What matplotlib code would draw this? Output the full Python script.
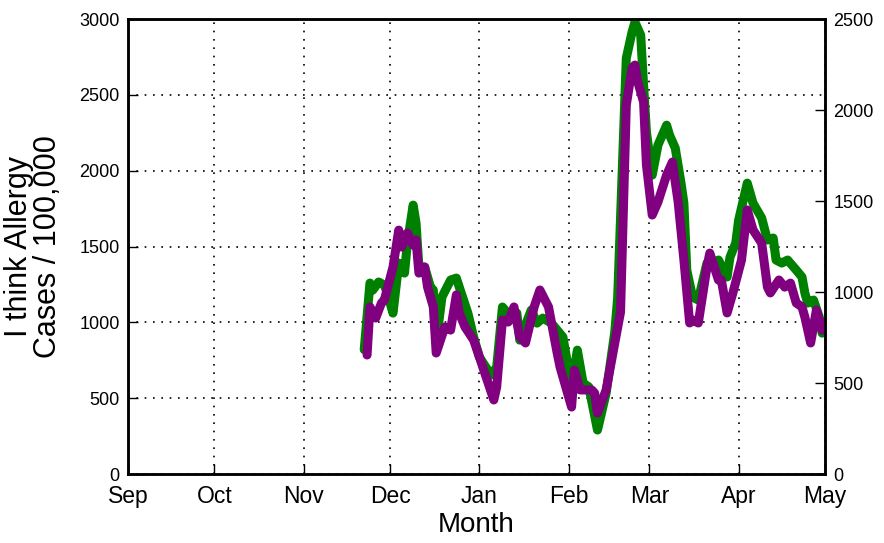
import matplotlib
matplotlib.use("Agg")
import matplotlib.pyplot as plt
import matplotlib.dates as mdates
import pandas as pd

plt.rcParams['font.family'] = ['Liberation Sans', 'DejaVu Sans']

# green series, left axis (cases / 100,000)
green_dates = [
    "2012-11-22", "2012-11-24", "2012-11-25", "2012-11-27", "2012-11-29", "2012-11-30",
    "2012-12-02", "2012-12-04", "2012-12-06", "2012-12-07", "2012-12-09", "2012-12-10",
    "2012-12-11", "2012-12-13", "2012-12-15", "2012-12-16", "2012-12-17", "2012-12-19",
    "2012-12-22", "2012-12-24", "2012-12-25", "2012-12-28", "2012-12-30",
    "2013-01-01", "2013-01-05", "2013-01-07", "2013-01-09", "2013-01-12", "2013-01-14",
    "2013-01-15", "2013-01-19", "2013-01-21", "2013-01-23", "2013-01-26", "2013-01-30",
    "2013-02-01", "2013-02-02", "2013-02-04", "2013-02-06", "2013-02-08", "2013-02-11",
    "2013-02-14", "2013-02-17", "2013-02-18", "2013-02-21", "2013-02-23", "2013-02-24",
    "2013-02-26", "2013-02-27", "2013-02-28",
    "2013-03-02", "2013-03-04", "2013-03-07", "2013-03-08", "2013-03-10", "2013-03-12",
    "2013-03-13", "2013-03-14", "2013-03-16", "2013-03-18", "2013-03-21", "2013-03-23",
    "2013-03-25", "2013-03-28", "2013-03-29", "2013-03-31",
    "2013-04-01", "2013-04-04", "2013-04-06", "2013-04-09", "2013-04-11", "2013-04-13",
    "2013-04-14", "2013-04-16", "2013-04-18", "2013-04-21", "2013-04-23", "2013-04-24",
    "2013-04-25", "2013-04-27", "2013-04-29", "2013-04-30", "2013-05-01",
]
green_vals = [
    820, 1259, 1213, 1266, 1246, 1193,
    1061, 1391, 1325, 1523, 1773, 1655,
    1365, 1365, 1233, 1213, 864, 1167,
    1279, 1292, 1233, 1061, 903,
    771, 653, 705, 1101, 1035, 1061,
    883, 1081, 995, 1028, 995, 903,
    686, 574, 817, 600, 574, 290,
    534, 936, 1160, 2742, 2914, 2980,
    2894, 2564, 2254,
    1971, 2169, 2300, 2235, 2149, 1918,
    1786, 1345, 1167, 1147, 1391, 1391,
    1411, 1299, 1430, 1523,
    1674, 1918, 1786, 1688, 1543, 1556,
    1411, 1391, 1411, 1345, 1299, 1193,
    1127, 1147, 1035, 929, 995,
]

# purple series, right axis
purple_dates = [
    "2012-11-23", "2012-11-24", "2012-11-26", "2012-11-28", "2012-11-29",
    "2012-12-02", "2012-12-04", "2012-12-05", "2012-12-07", "2012-12-09", "2012-12-10",
    "2012-12-11", "2012-12-13", "2012-12-14", "2012-12-16", "2012-12-17", "2012-12-20",
    "2012-12-22", "2012-12-24", "2012-12-25", "2012-12-27", "2012-12-30",
    "2013-01-01", "2013-01-06", "2013-01-07", "2013-01-09", "2013-01-11", "2013-01-13",
    "2013-01-15", "2013-01-17", "2013-01-20", "2013-01-22", "2013-01-25", "2013-01-28",
    "2013-01-29",
    "2013-02-02", "2013-02-03", "2013-02-05", "2013-02-09", "2013-02-10", "2013-02-11",
    "2013-02-14", "2013-02-17", "2013-02-19", "2013-02-21", "2013-02-23", "2013-02-24",
    "2013-02-25", "2013-02-27", "2013-02-28",
    "2013-03-02", "2013-03-04", "2013-03-07", "2013-03-09", "2013-03-11", "2013-03-13",
    "2013-03-15", "2013-03-16", "2013-03-18", "2013-03-21", "2013-03-22", "2013-03-25",
    "2013-03-26", "2013-03-28", "2013-03-30",
    "2013-04-02", "2013-04-04", "2013-04-06", "2013-04-09", "2013-04-11", "2013-04-12",
    "2013-04-15", "2013-04-17", "2013-04-19", "2013-04-21", "2013-04-23", "2013-04-24",
    "2013-04-26", "2013-04-28", "2013-04-29", "2013-04-30", "2013-05-01",
]
purple_vals = [
    654, 918, 857, 940, 956,
    1137, 1340, 1247, 1324, 1258, 1286,
    1104, 1137, 1027, 918, 665, 808,
    791, 984, 885, 808, 736,
    643, 407, 478, 846, 835, 918,
    753, 720, 918, 1011, 918, 665,
    588,
    368, 571, 462, 462, 445, 335,
    462, 720, 890, 2027, 2231, 2247,
    2154, 2044, 1698,
    1423, 1495, 1643, 1714, 1495, 1176,
    830, 846, 830, 1137, 1214, 1066,
    1066, 885, 995,
    1176, 1451, 1341, 1269, 1027, 995,
    1066, 1027, 1049, 940, 918, 862,
    720, 901, 846, 791, 791,
]

left_ticks = [0, 500, 1000, 1500, 2000, 2500, 3000]
right_ticks = [0, 500, 1000, 1500, 2000, 2500]

fig = plt.figure(figsize=(8.84, 5.43), dpi=100)
ax = fig.add_axes([0.1448, 0.127, 0.7885, 0.838])
ax2 = ax.twinx()

ax.plot(pd.to_datetime(green_dates), green_vals, color='green', lw=6.5,
        solid_joinstyle='round', solid_capstyle='round')
ax2.plot(pd.to_datetime(purple_dates), purple_vals, color='purple', lw=6.5,
         solid_joinstyle='round', solid_capstyle='round')

ax.set_xlim(pd.Timestamp("2012-09-01"), pd.Timestamp("2013-05-01"))
ax.set_ylim(0, 3000)
ax2.set_ylim(0, 2500)
ax.set_yticks(left_ticks)
ax2.set_yticks(right_ticks)

ax.xaxis.set_major_locator(mdates.MonthLocator())
ax.xaxis.set_major_formatter(mdates.DateFormatter('%b'))

ax.grid(True, color='black', linestyle=(0, (1, 4)), lw=1.2)
ax.set_axisbelow(True)

for a in (ax, ax2):
    for s in a.spines.values():
        s.set_linewidth(1.8)
    a.tick_params(direction='in', length=7, width=1, top=False)
ax.tick_params(axis='y', labelsize=13, pad=6)
ax.tick_params(axis='x', labelsize=16.5, pad=8)
ax2.tick_params(axis='y', labelsize=13, pad=6)

ax.set_xlabel("Month", fontsize=20, labelpad=3)
ax.set_ylabel("I think Allergy\nCases / 100,000", fontsize=22, labelpad=12,
              linespacing=0.95)

fig.savefig("out.png", dpi=100)
